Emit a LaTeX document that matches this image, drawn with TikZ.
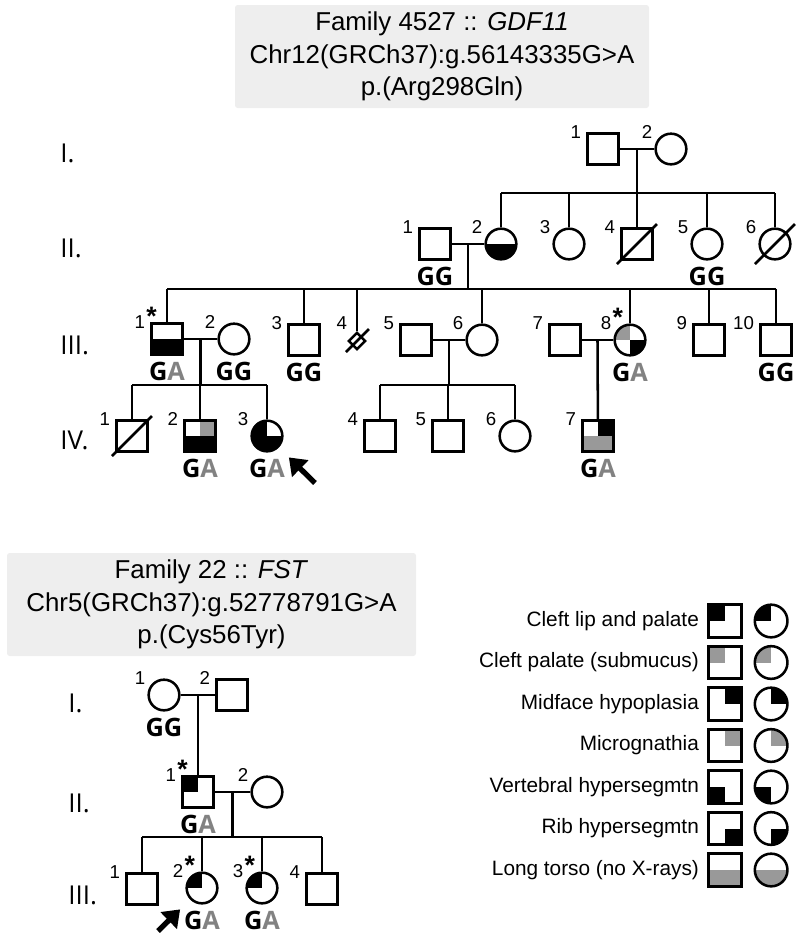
\documentclass[tikz,border=0pt]{standalone}
\usepackage{fontspec}
\setmainfont{Liberation Sans}
\newfontfamily\genofont{Open Sans}
\usetikzlibrary{shapes.geometric, positioning, arrows.meta}
\definecolor{boxgray}{HTML}{EEEEEE}
\definecolor{fillgray}{HTML}{999999}
\definecolor{agray}{HTML}{828282}
\newcommand{\GA}{G\textcolor{agray}{A}}
\newcommand{\seqd}{\rlap{\hspace{1pt}\raisebox{2pt}{\fontsize{20}{20}\selectfont\bfseries *}}}
\tikzset{
line/.style={line width=1.9pt},
person/.style={draw, line width=1.9pt, inner sep=0, minimum size=23pt, fill=white},
num/.style={font=\fontsize{14}{14}\selectfont, inner sep=0.5pt},
male/.style={person, rectangle, label={[num, xshift=-3.4pt, yshift=-5.2pt]north west:#1}}, male/.default={},
female/.style={person, circle, label={[num, xshift=-4.5pt, yshift=-1.5pt]north west:#1}}, female/.default={},
quad/.style n args={4}{path picture={
  \fill[#1] (path picture bounding box.center) rectangle (path picture bounding box.north west);
  \fill[#2] (path picture bounding box.center) rectangle (path picture bounding box.north east);
  \fill[#3] (path picture bounding box.center) rectangle (path picture bounding box.south west);
  \fill[#4] (path picture bounding box.center) rectangle (path picture bounding box.south east);}},
geno/.style={font=\genofont\bfseries\fontsize{19}{19}\selectfont, inner sep=0pt, yshift=-5pt},
gen/.style={font=\genofont\fontsize{19.5}{19.5}\selectfont, anchor=west, inner sep=0pt},
legtext/.style={font=\fontsize{15.6}{15.6}\selectfont, inner sep=0pt},
infobox/.style={fill=boxgray, rounded corners=2pt, align=center, inner sep=0pt, font=\fontsize{19.4}{24.4}\selectfont},
proband/.style={-{Triangle[length=12pt,width=17pt]}, line width=4pt, shorten >=10.5pt}
}
\begin{document}
\begin{tikzpicture}[x=0.75pt, y=-0.75pt]
\useasboundingbox (0,0) rectangle (800,940);

% ---- Family 4527
\node[infobox, minimum width=310.5pt, minimum height=77.25pt] (a-box) at (442,56.5)
  {Family 4527 :: \textit{GDF11}\\Chr12(GRCh37):g.56143335G>A\\p.(Arg298Gln)};
\foreach \g/\y [count=\j] in {I./153, II./248, III./345, IV./440}
  \node[gen] (a-g\j) at (60,\y) {\g};

% generation I
\node[male=1] (a-i1) at (603,149) {};
\node[female=2] (a-i2) at (671,149) {};
\draw[line] (a-i1) -- coordinate[midway] (a-m1) (a-i2);
\coordinate (a-s2) at (0,193);
\draw[line] (a-m1) -- (a-m1 |- a-s2);

% generation II
\node[male=1, label={[geno]below:GG}] (a-ii1) at (435,244) {};
\node[female=2, quad={white}{white}{black}{black}] (a-ii2) at (501,244) {};
\node[female=3] (a-ii3) at (569,244) {};
\node[male=4] (a-ii4) at (637,244) {};
\node[female=5, label={[geno]below:GG}] (a-ii5) at (707,244) {};
\node[female=6] (a-ii6) at (775,244) {};
\draw[line] (a-ii2 |- a-s2) -- (a-ii6 |- a-s2);
\foreach \k in {ii2,ii3,ii4,ii5,ii6}
  \draw[line] (a-\k |- a-s2) -- (a-\k);
\foreach \k in {ii4,ii6}
  \draw[line] ([shift={(-20,20)}]a-\k.center) -- ([shift={(20,-20)}]a-\k.center);
\draw[line] (a-ii1) -- coordinate[midway] (a-m2) (a-ii2);
\coordinate (a-s3) at (0,289);
\draw[line] (a-m2) -- (a-m2 |- a-s3);

% generation III
\node[male=1\seqd, quad={white}{white}{black}{black}, label={[geno]below:\GA}] (a-iii1) at (167,339) {};
\node[female=2, label={[geno]below:GG}] (a-iii2) at (234,339) {};
\node[male=3, label={[geno]below:GG}] (a-iii3) at (304,340) {};
\node[person, diamond, minimum size=13pt, label={[num, xshift=-3pt, yshift=4pt]north west:4}] (a-iii4) at (357,341) {};
\node[male=5] (a-iii5) at (416,340) {};
\node[female=6] (a-iii6) at (482,340) {};
\node[male=7] (a-iii7) at (565,340) {};
\node[female=8\seqd, quad={fillgray}{white}{white}{black}, label={[geno]below:\GA}] (a-iii8) at (630,340) {};
\node[male=9] (a-iii9) at (709,340) {};
\node[male=10, label={[geno]below:GG}] (a-iii10) at (776,340) {};
\draw[line] (a-iii1 |- a-s3) -- (a-iii10 |- a-s3);
\foreach \k in {iii1,iii3,iii4,iii6,iii8,iii9,iii10}
  \draw[line] (a-\k |- a-s3) -- (a-\k);
\draw[line] ([shift={(-11,11)}]a-iii4.center) -- ([shift={(12,-12)}]a-iii4.center);
\draw[line] (a-iii1) -- coordinate[midway] (a-m3) (a-iii2);
\draw[line] (a-iii5) -- coordinate[midway] (a-m4) (a-iii6);
\draw[line] (a-iii7) -- coordinate[midway] (a-m5) (a-iii8);
\coordinate (a-s4) at (0,385);
\draw[line] (a-m3) -- (a-m3 |- a-s4);
\draw[line] (a-m4) -- (a-m4 |- a-s4);

% generation IV
\node[male=1] (a-iv1) at (132,436) {};
\node[male=2, quad={white}{fillgray}{black}{black}, label={[geno]below:\GA}] (a-iv2) at (200,436) {};
\node[female=3, quad={black}{white}{black}{black}, label={[geno]below:\GA}] (a-iv3) at (267,436) {};
\node[male=4] (a-iv4) at (380,436) {};
\node[male=5] (a-iv5) at (448,436) {};
\node[female=6] (a-iv6) at (515,436) {};
\node[male=7, quad={white}{black}{fillgray}{fillgray}, label={[geno]below:\GA}] (a-iv7) at (598,436) {};
\draw[line] (a-iv1 |- a-s4) -- (a-iv3 |- a-s4);
\draw[line] (a-iv4 |- a-s4) -- (a-iv6 |- a-s4);
\foreach \k in {iv1,iv2,iv3,iv4,iv5,iv6}
  \draw[line] (a-\k |- a-s4) -- (a-\k);
\draw[line] (a-m5) -- (a-iv7);
\draw[line] ([shift={(-20,20)}]a-iv1.center) -- ([shift={(20,-20)}]a-iv1.center);
\coordinate (a-arr) at (315,483);
\draw[proband] (a-arr) -- (a-iv3);

% ---- Family 22
\node[infobox, minimum width=306.75pt, minimum height=77.25pt] (b-box) at (211.5,604.5)
  {Family 22 :: \textit{FST}\\Chr5(GRCh37):g.52778791G>A\\p.(Cys56Tyr)};
\foreach \g/\y [count=\j] in {I./703, II./803, III./895}
  \node[gen] (b-g\j) at (68,\y) {\g};

\node[female=1, label={[geno]below:GG}] (b-i1) at (164,695) {};
\node[male=2] (b-i2) at (232,695) {};
\draw[line] (b-i1) -- coordinate[midway] (b-m1) (b-i2);
\node[male=1\seqd, quad={black}{white}{white}{white}, label={[geno]below:\GA}] (b-ii1) at (198,792) {};
\node[female=2] (b-ii2) at (267,792) {};
\draw[line] (b-m1) -- (b-ii1);
\draw[line] (b-ii1) -- coordinate[midway] (b-m2) (b-ii2);
\coordinate (b-s3) at (0,837);
\draw[line] (b-m2) -- (b-m2 |- b-s3);
\node[male=1] (b-iii1) at (142,889) {};
\node[female=2\seqd, quad={black}{white}{white}{white}, label={[geno]below:\GA}] (b-iii2) at (202,888) {};
\node[female=3\seqd, quad={black}{white}{white}{white}, label={[geno]below:\GA}] (b-iii3) at (262,888) {};
\node[male=4] (b-iii4) at (322,889) {};
\draw[line] (b-iii1 |- b-s3) -- (b-iii4 |- b-s3);
\foreach \k in {iii1,iii2,iii3,iii4}
  \draw[line] (b-\k |- b-s3) -- (b-\k);
\coordinate (b-arr) at (158,931);
\draw[proband] (b-arr) -- (b-iii2);

% ---- legend
\foreach \txt/\ca/\cb/\cc/\cd [count=\i] in {Cleft lip and palate/black/white/white/white,
    Cleft palate (submucus)/fillgray/white/white/white, Midface hypoplasia/white/black/white/white,
    Micrognathia/white/fillgray/white/white, Vertebral hypersegmtn/white/white/black/white,
    Rib hypersegmtn/white/white/white/black, Long torso (no X-rays)/white/white/fillgray/fillgray}{
  \node[male, line width=2.3pt, minimum size=24.5pt, quad={\ca}{\cb}{\cc}{\cd}] (leg-s\i) at (725,579.5+41.5*\i) {};
  \node[female, minimum size=24.5pt, quad={\ca}{\cb}{\cc}{\cd}, right=8pt of leg-s\i] (leg-c\i) {};
  \node[legtext, left=6pt of leg-s\i] (leg-t\i) {\txt};
}
\end{tikzpicture}
\end{document}
